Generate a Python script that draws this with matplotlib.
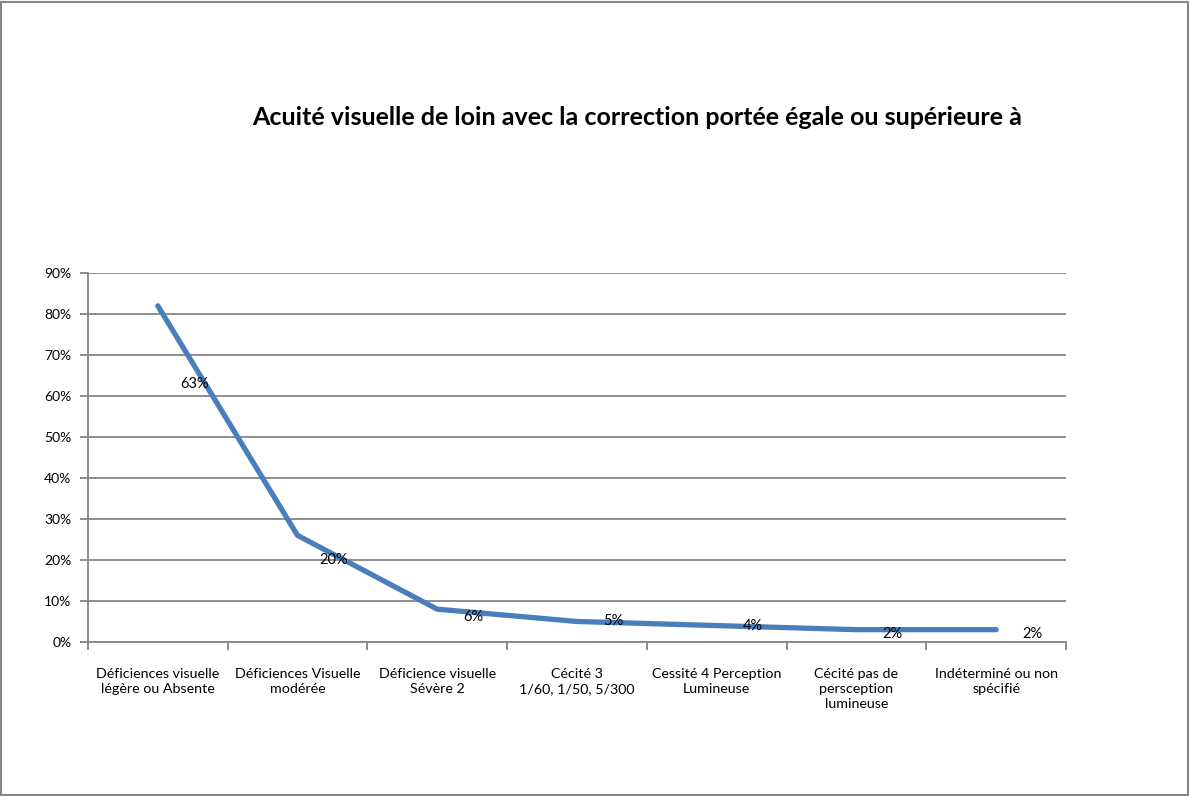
import matplotlib
matplotlib.use("Agg")
import matplotlib.pyplot as plt
from matplotlib.patches import Rectangle
from matplotlib.ticker import FixedLocator, PercentFormatter

plt.rcParams['font.family'] = ['Lato', 'DejaVu Sans']

categories = [
    "Déficiences visuelle\nlégère ou Absente",
    "Déficiences Visuelle\nmodérée",
    "Déficience visuelle\nSévère 2",
    "Cécité 3\n1/60, 1/50, 5/300",
    "Cessité 4 Perception\nLumineuse",
    "Cécité pas de\npersception\nlumineuse",
    "Indéterminé ou non\nspécifié",
]
line_values = [0.82, 0.26, 0.08, 0.05, 0.04, 0.03, 0.03]
label_values = [0.63, 0.20, 0.06, 0.05, 0.04, 0.02, 0.02]
title = "Acuité visuelle de loin avec la correction portée égale ou supérieure à"

grey = "#868686"

fig = plt.figure(figsize=(11.9, 7.96), dpi=100)
fig.patches.append(Rectangle((0.001, 0.001), 0.997, 0.997, transform=fig.transFigure,
                             fill=False, edgecolor=grey, linewidth=1.5))

ax = fig.add_axes([0.0739, 0.1935, 0.8219, 0.4635])
x = list(range(len(categories)))
ax.plot(x, line_values, color="#4a7ebb", linewidth=3.8, solid_capstyle="round",
        solid_joinstyle="round", zorder=3)

for xi, lv in zip(x, label_values):
    ax.text(xi + 0.26, lv, f"{lv:.0%}", ha="center", va="center", fontsize=10.5,
            color="black", zorder=4)

ax.set_xlim(-0.5, len(categories) - 0.5)
ax.set_ylim(0, 0.9)
ax.yaxis.set_major_locator(FixedLocator([i / 10 for i in range(10)]))
ax.yaxis.set_major_formatter(PercentFormatter(1.0, decimals=0))
ax.grid(axis="y", color=grey, linewidth=1.3)
ax.set_axisbelow(True)

ax.set_xticks([i - 0.5 for i in range(len(categories) + 1)])
ax.set_xticklabels([])
ax.set_xticks(x, minor=True)
ax.set_xticklabels(categories, minor=True, fontsize=10.3, linespacing=1.3)
ax.tick_params(axis="x", which="major", length=6, color=grey, width=1.3)
ax.tick_params(axis="x", which="minor", length=0, pad=19)
ax.tick_params(axis="y", length=6, color=grey, width=1.3, labelsize=10, pad=6)

for side in ["top", "right"]:
    ax.spines[side].set_visible(False)
for side in ["left", "bottom"]:
    ax.spines[side].set_color(grey)
    ax.spines[side].set_linewidth(1.3)

fig.text(0.535, 0.853, title, ha="center", va="center", fontsize=18, fontweight="bold")

fig.savefig("out.png", dpi=100)
